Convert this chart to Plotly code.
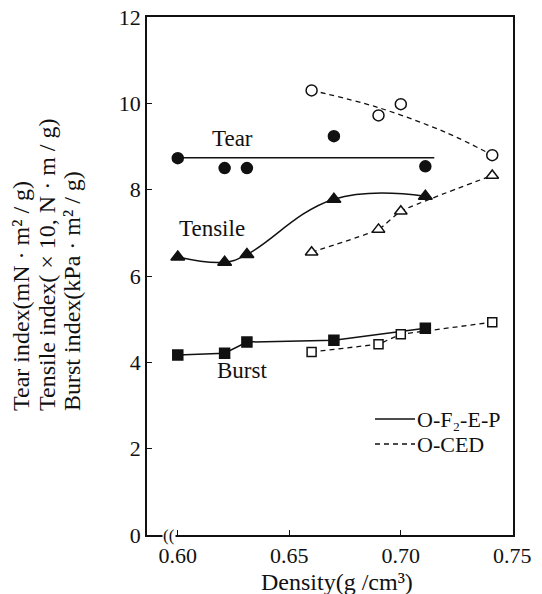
import plotly.graph_objects as go

# ---- data ----
# O-F2-E-P (solid marks)
tear_x = [0.600, 0.621, 0.631, 0.670, 0.711]
tear_y = [8.73, 8.50, 8.50, 9.24, 8.54]
tear_fit_x = [0.600, 0.715]
tear_fit_y = [8.74, 8.74]

tensile_x = [0.600, 0.621, 0.631, 0.670, 0.711]
tensile_y = [6.44, 6.32, 6.50, 7.78, 7.85]

burst_x = [0.600, 0.621, 0.631, 0.670, 0.711]
burst_y = [4.17, 4.21, 4.47, 4.51, 4.79]

# O-CED (open marks)
tear_c_x = [0.660, 0.690, 0.700, 0.741]
tear_c_y = [10.30, 9.72, 9.98, 8.80]
tear_c_fit_x = [0.660, 0.690, 0.720, 0.741]
tear_c_fit_y = [10.30, 9.90, 9.33, 8.80]

tensile_c_x = [0.660, 0.690, 0.700, 0.741]
tensile_c_y = [6.55, 7.08, 7.50, 8.33]

burst_c_x = [0.660, 0.690, 0.700, 0.741]
burst_c_y = [4.24, 4.42, 4.65, 4.93]

x_ticks = [0.60, 0.65, 0.70, 0.75]
x_tick_labels = ["0.60", "0.65", "0.70", "0.75"]
y_ticks = [0, 2, 4, 6, 8, 10, 12]

series_labels = ["Tear", "Tensile", "Burst"]
legend_names = ["O-F₂-E-P", "O-CED"]
y_title_lines = ["Tear index(mN · m² / g)",
                 "Tensile index( × 10, N · m / g)",
                 "Burst index(kPa · m² / g)"]
x_title = "Density(g /cm³)"

FONT = "Liberation Serif"
BLACK = "#111111"
DASH = "5px,4px"

fig = go.Figure()

def solid_line(x, y, shape="linear", smoothing=1.0):
    fig.add_trace(go.Scatter(x=x, y=y, mode="lines", showlegend=False,
                             line=dict(color=BLACK, width=1.5, shape=shape, smoothing=smoothing),
                             hoverinfo="skip"))

def dashed_line(x, y, shape="linear", smoothing=1.0):
    fig.add_trace(go.Scatter(x=x, y=y, mode="lines", showlegend=False,
                             line=dict(color=BLACK, width=1.3, dash=DASH, shape=shape, smoothing=smoothing),
                             hoverinfo="skip"))

def marks(x, y, symbol, size):
    fig.add_trace(go.Scatter(x=x, y=y, mode="markers", showlegend=False,
                             marker=dict(symbol=symbol, size=size, color=BLACK,
                                         line=dict(color=BLACK, width=1.5))))

def open_marks(x, y, symbol, size):
    fig.add_trace(go.Scatter(x=x, y=y, mode="markers", showlegend=False,
                             marker=dict(symbol=symbol, size=size, color="white",
                                         line=dict(color=BLACK, width=1.5))))

# lines
solid_line(tear_fit_x, tear_fit_y)
solid_line(tensile_x, tensile_y, shape="spline", smoothing=1.2)
solid_line(burst_x, burst_y)
dashed_line(tear_c_fit_x, tear_c_fit_y, shape="spline", smoothing=1.0)
dashed_line(tensile_c_x, tensile_c_y, shape="spline", smoothing=0.4)
dashed_line(burst_c_x, burst_c_y)

# markers
marks(tear_x, tear_y, "circle", 11)
marks(tensile_x, tensile_y, "triangle-up", 12)
marks(burst_x, burst_y, "square", 10)
open_marks(tear_c_x, tear_c_y, "circle", 11)
open_marks(tensile_c_x, tensile_c_y, "triangle-up", 11)
open_marks(burst_c_x, burst_c_y, "square", 9)

# The page is drawn with an 8px body margin; compensate so the plot lands
# where it sits in the reference (screen px -> paper coords below).
PAGE_OFF = 8
PLOT_L, PLOT_W, PLOT_B, PLOT_H = 147, 366, 535, 518

def px2x(px):
    return (px - PLOT_L) / PLOT_W

def px2y(py):
    return (PLOT_B - py) / PLOT_H

# series labels
label_pos = [(0.6246, 9.19), (0.6152, 7.10), (0.629, 3.82)]
for txt, (lx, ly) in zip(series_labels, label_pos):
    fig.add_annotation(x=lx, y=ly, text=txt, showarrow=False,
                       font=dict(family=FONT, size=23, color=BLACK))

# y-axis title: three rotated lines, bottom-aligned
for line, px in zip(y_title_lines, [21, 47, 72]):
    fig.add_annotation(
        xref="paper", yref="paper", x=px2x(px), y=px2y(412),
        xanchor="center", yanchor="bottom", text=line, textangle=-90,
        showarrow=False, borderpad=0, font=dict(family=FONT, size=24, color=BLACK))

# x-axis title
fig.add_annotation(xref="paper", yref="paper", x=px2x(337), y=px2y(582),
                   xanchor="center", yanchor="middle", text=x_title,
                   showarrow=False, borderpad=0,
                   font=dict(family=FONT, size=24, color=BLACK))

# axis break mark
fig.add_annotation(xref="paper", yref="paper", x=px2x(162), y=0.0, text="((",
                   showarrow=False, font=dict(family=FONT, size=17, color=BLACK),
                   bgcolor="white", borderpad=0, yanchor="middle")

# legend (drawn manually for the reference's tight row spacing)
legend_rows = [419, 444]
legend_dash = ["solid", DASH]
for name, py, dash in zip(legend_names, legend_rows, legend_dash):
    fig.add_shape(type="line", xref="paper", yref="paper",
                  x0=px2x(375), x1=px2x(415), y0=px2y(py), y1=px2y(py),
                  line=dict(color=BLACK, width=1.5 if dash == "solid" else 1.3, dash=dash))
    fig.add_annotation(xref="paper", yref="paper", x=px2x(416), y=px2y(py),
                       xanchor="left", yanchor="middle", text=name, showarrow=False,
                       borderpad=0, font=dict(family=FONT, size=22, color=BLACK))

fig.update_layout(
    width=542 - PAGE_OFF, height=594 - PAGE_OFF,
    margin=dict(l=147 - PAGE_OFF, r=29, t=17 - PAGE_OFF, b=59, autoexpand=False),
    paper_bgcolor="white", plot_bgcolor="white",
    showlegend=False,
    font=dict(family=FONT, size=21, color=BLACK),
    xaxis=dict(range=[0.5862, 0.7503], tickvals=x_ticks, ticktext=x_tick_labels,
               ticks="inside", ticklen=5, tickcolor=BLACK, tickwidth=1.2,
               showline=True, linecolor=BLACK, linewidth=1.5, mirror=True,
               showgrid=False, zeroline=False, automargin=False,
               ticklabeloverflow="allow",
               tickfont=dict(family=FONT, size=22, color=BLACK)),
    yaxis=dict(range=[0, 12], tickvals=y_ticks,
               ticks="inside", ticklen=5, tickcolor=BLACK, tickwidth=1.2,
               showline=True, linecolor=BLACK, linewidth=1.5, mirror=True,
               showgrid=False, zeroline=False, automargin=False,
               ticklabeloverflow="allow",
               tickfont=dict(family=FONT, size=22, color=BLACK)),
)

fig.write_html("out.html")
